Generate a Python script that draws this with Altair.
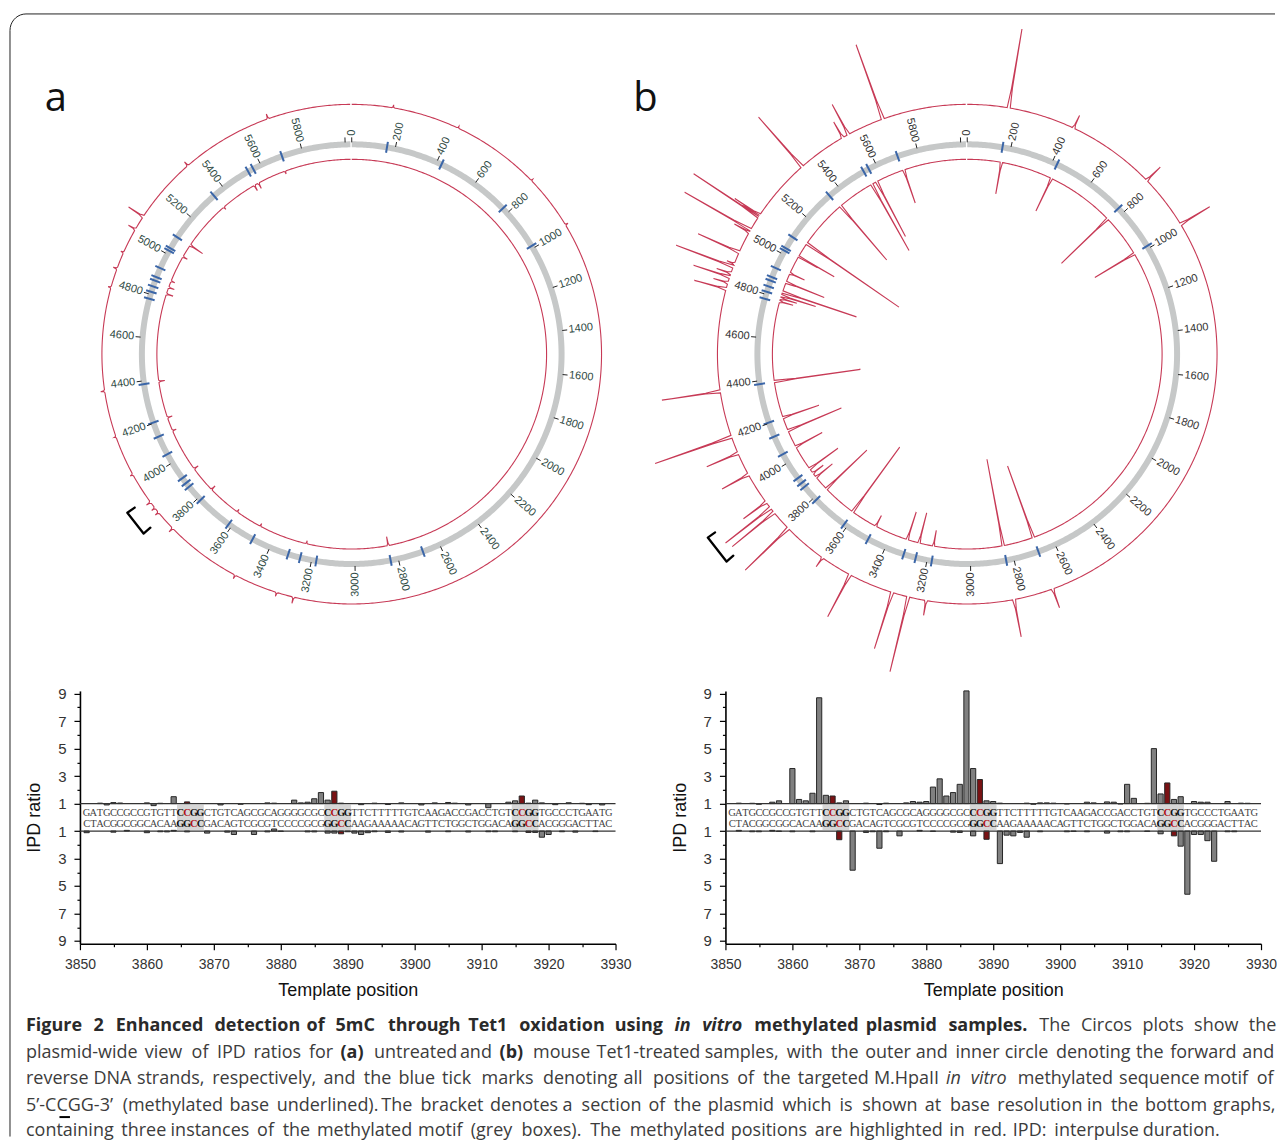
import math
import altair as alt
import pandas as pd

PLASMID = 6030
RED = "#c73a56"
GREY_RING = "#c6c8c8"
BLUE = "#3b66a8"

# ---- Circos data -----------------------------------------------------------
label_bp = list(range(0, 6000, 200))
extra_tick_bp = [6000]
motif_bp = [162, 424, 771, 988, 2683, 2836, 3178, 3253, 3310, 3487, 3616, 3786, 3866, 3888, 3916,
            4045, 4135, 4204, 4385, 4779, 4812, 4838, 4866, 4883, 4928, 5017, 5030, 5089, 5343,
            5535, 5561, 5705]

a_outer_bp = [160, 422, 770, 985, 3241, 3308, 3481, 3782, 3864, 3886, 3914, 4040, 4199, 4380, 4782, 4858, 4925, 5025, 5082, 5343, 5702]
a_outer_ipd = [1.3, 1.2, 1.2, 1.3, 1.65, 1.4, 1.4, 1.5, 1.4, 1.4, 1.5, 1.3, 1.2, 1.4, 1.3, 1.4, 1.3, 1.8, 2.75, 1.5, 1.5]
a_inner_bp = [2834, 3240, 3484, 3618, 3786, 3919, 4135, 4204, 4388, 4824, 4858, 4891, 5025, 5092, 5343, 5528, 5551, 5695]
a_inner_ipd = [1.9, 1.3, 1.3, 1.3, 1.5, 1.5, 1.4, 1.5, 1.6, 1.7, 1.6, 1.4, 1.5, 2.5, 1.3, 1.6, 1.6, 1.3]

b_outer_bp = [160, 422, 769, 983, 2680, 2834, 3174, 3244, 3308, 3484, 3608, 3782, 3864, 3886, 3914, 4040, 4131, 4199, 4379,
              4776, 4801, 4824, 4839, 4866, 4878, 4926, 5012, 5022, 5082, 5089, 5337, 5529, 5554, 5699]
b_outer_ipd = [9.0, 2.4, 2.9, 4.4, 3.0, 4.8, 2.5, 8.7, 6.9, 5.75, 2.1, 7.0, 6.4, 6.7, 3.8, 4.0, 4.4, 9.1, 6.9,
               4.3, 2.5, 4.8, 2.5, 7.1, 1.8, 5.5, 2.7, 8.6, 8.8, 4.0, 7.6, 2.8, 4.4, 8.9]
b_inner_bp = [169, 429, 771, 988, 2683, 2837, 3182, 3255, 3315, 3484, 3618, 3790, 3867, 3892, 3919, 4047, 4135, 4204, 4387,
              4785, 4801, 4815, 4834, 4885, 4933, 5025, 5028, 5102, 5351, 5539, 5566, 5712]
b_inner_ipd = [4.2, 4.6, 7.4, 5.6, 8.6, 9.8, 2.6, 4.1, 3.9, 2.2, 9.0, 6.6, 3.1, 2.3, 4.5, 4.0, 6.8, 4.8, 9.7,
               2.4, 2.7, 4.6, 8.8, 5.1, 2.6, 3.2, 5.1, 12.2, 8.1, 8.6, 7.2, 4.5]

# ---- Base-resolution data --------------------------------------------------
seq_top = "GATGCCGCCGTGTTCCGGCTGTCAGCGCAGGGGCGCCCGGTTCTTTTTGTCAAGACCGACCTGTCCGGTGCCCTGAATG"
seq_bottom = "CTACGGCGGCACAAGGCCGACAGTCGCGTCCCCGCGGGCCAAGAAAAACAGTTCTGGCTGGACAGGCCACGGGACTTAC"
motif_starts = [3865, 3887, 3915]
red_top = [3866, 3888, 3916]
red_bottom = [3867, 3889, 3917]

a_top_pos = [3853, 3854, 3855, 3856, 3860, 3861, 3862, 3864, 3866, 3871, 3874, 3878, 3879, 3882, 3883, 3884, 3885, 3886, 3887, 3888,
             3889, 3892, 3894, 3896, 3898, 3901, 3903, 3905, 3906, 3908, 3911, 3914, 3915, 3916, 3917, 3918, 3919, 3921, 3923, 3925, 3926, 3928]
a_top_val = [1.03, 0.9, 1.07, 1.04, 1.05, 0.85, 1.02, 1.5, 1.12, 0.9, 0.95, 1.05, 1.03, 1.25, 1.05, 1.1, 1.35, 1.8, 1.25, 1.9,
             1.03, 0.92, 1.03, 0.93, 1.05, 0.9, 1.05, 1.08, 1.03, 0.9, 0.7, 1.1, 1.2, 1.55, 1.03, 1.25, 1.05, 0.92, 1.06, 1.02, 0.92, 0.9]
a_bottom_pos = [3851, 3855, 3857, 3860, 3862, 3863, 3864, 3866, 3869, 3872, 3873, 3876, 3878, 3879, 3880, 3884, 3885, 3887, 3888, 3889, 3890,
                3891, 3892, 3893, 3894, 3896, 3898, 3902, 3905, 3908, 3911, 3912, 3915, 3917, 3918, 3919, 3920, 3922, 3924, 3927]
a_bottom_val = [1.12, 1.08, 0.95, 1.12, 1.05, 1.06, 0.95, 1.06, 1.15, 1.08, 1.25, 1.25, 1.06, 0.85, 1.03, 1.06, 1.06, 1.15, 1.15, 1.2, 1.05,
                1.15, 1.25, 1.12, 1.05, 1.1, 1.07, 1.08, 1.05, 1.07, 1.05, 1.05, 1.05, 1.1, 1.1, 1.45, 1.25, 1.05, 1.08, 1.04]
b_top_pos = [3852, 3854, 3855, 3857, 3858, 3860, 3861, 3862, 3863, 3864, 3865, 3866, 3867, 3868, 3871, 3873, 3874, 3877, 3878, 3879, 3880, 3881, 3882,
             3883, 3884, 3885, 3886, 3887, 3888, 3889, 3890, 3891, 3895, 3896, 3897, 3898, 3899, 3901, 3904, 3905, 3907, 3908, 3909, 3910, 3911, 3913,
             3914, 3915, 3916, 3917, 3918, 3920, 3921, 3922, 3925, 3927, 3928]
b_top_val = [1.03, 1.02, 0.95, 1.1, 1.2, 3.55, 1.3, 1.2, 1.75, 8.7, 1.6, 1.55, 1.05, 1.2, 1.03, 0.93, 1.03, 1.05, 1.15, 1.1, 1.15, 2.2, 2.8,
             1.55, 1.8, 2.4, 9.2, 3.55, 2.75, 1.2, 1.15, 1.03, 1.03, 0.95, 1.05, 1.05, 1.03, 0.97, 1.1, 1.05, 1.12, 1.1, 0.97, 2.4, 1.38, 1.02,
             5.0, 1.7, 2.5, 1.3, 1.5, 1.15, 1.1, 1.1, 1.15, 1.03, 1.02]
b_bottom_pos = [3852, 3854, 3855, 3857, 3858, 3860, 3863, 3867, 3869, 3871, 3872, 3873, 3874, 3876, 3879, 3881, 3884, 3885, 3887, 3889, 3891,
                3892, 3893, 3894, 3895, 3897, 3901, 3902, 3904, 3907, 3909, 3910, 3913, 3915, 3917, 3918, 3919, 3920, 3921, 3922, 3923, 3925, 3926]
b_bottom_val = [0.95, 1.05, 1.05, 0.95, 1.03, 1.05, 1.05, 1.63, 3.85, 1.1, 1.05, 2.25, 1.05, 1.35, 0.95, 1.03, 1.08, 1.1, 1.35, 1.6, 3.37,
                1.3, 1.35, 1.1, 1.45, 1.05, 1.05, 1.03, 1.05, 1.15, 1.05, 1.05, 1.03, 1.2, 1.35, 2.1, 5.6, 1.25, 1.25, 1.7, 3.2, 1.05, 1.05]

# ---- Caption ---------------------------------------------------------------
caption_y = [1026, 1053, 1079, 1106, 1131]
caption_end = [1274, 1273, 1273, 1274, 1216]
caption_runs = [
    [("Figure 2 Enhanced detection of 5mC through Tet1 oxidation using", "b"), ("in vitro", "bi"),
     ("methylated plasmid samples.", "b"), ("The Circos plots show the", "r")],
    [("plasmid-wide view of IPD ratios for", "r"), ("(a)", "b"), ("untreated and", "r"), ("(b)", "b"),
     ("mouse Tet1-treated samples, with the outer and inner circle denoting the forward and", "r")],
    [("reverse DNA strands, respectively, and the blue tick marks denoting all positions of the targeted M.HpaII", "r"),
     ("in vitro", "i"), ("methylated sequence motif of", "r")],
    [("5’-CCGG-3’ (methylated base underlined). The bracket denotes a section of the plasmid which is shown at base resolution in the bottom graphs,", "r")],
    [("containing three instances of the methylated motif (grey boxes). The methylated positions are highlighted in red. IPD: interpulse duration.", "r")],
]
FS = 18.0


def char_w(c):
    if c in "iljI.,:;'’": return 0.27
    if c in "ftr()-": return 0.34
    if c in "mM": return 0.90
    if c in "wW": return 0.78
    if c in "ABCDEFGHKLNOPQRSTUVXYZ": return 0.63
    if c in "Ts": return 0.5
    if c in "cez": return 0.49
    return 0.57


def caption_frame():
    rows = []
    for y, end, runs in zip(caption_y, caption_end, caption_runs):
        words = [(w, st) for txt, st in runs for w in txt.split(" ")]
        widths = [sum(char_w(c) for c in w) * FS * (1.09 if "b" in st else 1.0) for w, st in words]
        gap = (end - 25 - sum(widths)) / (len(words) - 1)
        x = 25.0
        for (w, st), wd in zip(words, widths):
            rows.append(dict(x=x, y=y, t=w, st=st))
            x += wd + gap
    return pd.DataFrame(rows)


# ---- Helpers ---------------------------------------------------------------
def pol(cx, cy, bp, r):
    th = 2 * math.pi * bp / PLASMID
    return cx + r * math.sin(th), cy - r * math.cos(th)


def trace(name, cx, cy, r0, sign, bps, vals):
    pts = {float(b): 0.0 for b in range(0, PLASMID + 1, 8)}
    w = 6.0
    for b, v in zip(bps, vals):
        pts = {k: h for k, h in pts.items() if abs(k - b) > w}
    for b, v in zip(bps, vals):
        h = (v - 1) * 10
        pts[b - w] = max(pts.get(b - w, 0), 0)
        pts[b - 1.5] = max(pts.get(b - 1.5, 0), h * 0.25)
        pts[float(b)] = max(pts.get(float(b), 0), h)
        pts[b + 1.5] = max(pts.get(b + 1.5, 0), h * 0.25)
        pts[b + w] = max(pts.get(b + w, 0), 0)
    rows = []
    for i, k in enumerate(sorted(pts)):
        x, y = pol(cx, cy, k, r0 + sign * pts[k])
        rows.append(dict(ring=name, i=i, x=x, y=y))
    return rows


W = 1269
X = alt.X("x:Q", scale=alt.Scale(domain=[8, 8 + W]), axis=None)
Y = alt.Y("y:Q", scale=alt.Scale(domain=[8, 691], reverse=True), axis=None)
ONE = pd.DataFrame({"k": [0]})


def circos(name, cx, cy, bps_o, vals_o, bps_i, vals_i, label_color, br_r):
    ring_pts = [dict(zip(("x", "y"), pol(cx, cy, b, 210))) | {"i": i} for i, b in enumerate(range(0, PLASMID + 1, 8))]
    ring = alt.Chart(pd.DataFrame(ring_pts)).mark_line(color=GREY_RING, strokeWidth=6).encode(X, Y, order="i:Q")
    tr = pd.DataFrame(trace(name + "o", cx, cy, 250, 1, bps_o, vals_o) + trace(name + "i", cx, cy, 195, -1, bps_i, vals_i))
    red = alt.Chart(tr).mark_line(color=RED, strokeWidth=1.1).encode(X, Y, detail="ring:N", order="i:Q")
    seg = []
    for b in motif_bp:
        x, y = pol(cx, cy, b, 204.5)
        x2, y2 = pol(cx, cy, b, 215.5)
        seg.append(dict(x=x, y=y, x2=x2, y2=y2))
    blue = alt.Chart(pd.DataFrame(seg)).mark_rule(color=BLUE, strokeWidth=2).encode(X, Y, x2="x2:Q", y2="y2:Q")
    tk = []
    for b in label_bp + extra_tick_bp:
        x, y = pol(cx, cy, b, 212)
        x2, y2 = pol(cx, cy, b, 217)
        tk.append(dict(x=x, y=y, x2=x2, y2=y2))
    ticks = alt.Chart(pd.DataFrame(tk)).mark_rule(color="#222222", strokeWidth=1).encode(X, Y, x2="x2:Q", y2="y2:Q")
    rl, ll = [], []
    for b in label_bp:
        th = 360.0 * b / PLASMID
        x, y = pol(cx, cy, b, 218.5)
        if 0 <= th < 178:
            rl.append(dict(x=x, y=y, t=str(b), a=(th - 90) % 360))
        else:
            ll.append(dict(x=x, y=y, t=str(b), a=(th + 90) % 360))
    lab_kw = dict(font="Liberation Sans", fontSize=11, color=label_color, baseline="middle")
    labs_r = alt.Chart(pd.DataFrame(rl)).mark_text(align="left", **lab_kw).encode(X, Y, text="t:N", angle=alt.Angle("a:Q", scale=None))
    labs_l = alt.Chart(pd.DataFrame(ll)).mark_text(align="right", **lab_kw).encode(X, Y, text="t:N", angle=alt.Angle("a:Q", scale=None))
    br = [pol(cx, cy, 3932, br_r), pol(cx, cy, 3932, br_r + 9), pol(cx, cy, 3840, br_r + 9), pol(cx, cy, 3840, br_r)]
    bracket = alt.Chart(pd.DataFrame([dict(x=p[0], y=p[1], i=i) for i, p in enumerate(br)])).mark_line(
        color="black", strokeWidth=2.3, strokeCap="round", strokeJoin="round").encode(X, Y, order="i:Q")
    return [ring, blue, ticks, labs_r, labs_l, red, bracket]


def ipd_panel(top_pos, top_val, bot_pos, bot_val):
    rows = []
    for p, v in zip(top_pos, top_val):
        rows.append(dict(pos=p, u=v, base=1, col="#7a1214" if p in red_top else "#808080"))
    for p, v in zip(bot_pos, bot_val):
        rows.append(dict(pos=p, u=-v, base=-1, col="#7a1214" if p in red_bottom else "#808080"))
    x = alt.X("pos:Q", scale=alt.Scale(domain=[3850, 3930], nice=False, zero=False, padding=0),
              axis=alt.Axis(values=list(range(3850, 3931, 5)), title="Template position", grid=False,
                            labelExpr="datum.value % 10 == 0 ? datum.label : ''", format="d", labelFlush=False, labelOverlap=False,
                            labelFont="Liberation Sans", labelFontSize=14, labelColor="#333333", labelPadding=8,
                            titleFont="Liberation Sans", titleFontSize=18, titleFontWeight="normal", titleColor="#111111",
                            titlePadding=10, domainColor="black", domainWidth=1.4, tickColor="black", tickWidth=1.2,
                            tickSize={"condition": {"test": "datum.value % 10 == 0", "value": 6}, "value": 3}))
    y = alt.Y("u:Q", scale=alt.Scale(domain=[-9.2, 9.2], nice=False, zero=False, padding=0),
              axis=alt.Axis(values=[v for v in range(-9, 10) if v != 0], title="IPD ratio", grid=False,
                            labelExpr="abs(datum.value) % 2 == 1 ? abs(datum.value) : ''", labelFlush=False, labelOverlap=False,
                            labelFont="Liberation Sans", labelFontSize=15, labelColor="#333333", labelPadding=8,
                            titleFont="Liberation Sans", titleFontSize=18, titleFontWeight="normal", titleColor="#111111",
                            titlePadding=14, domainColor="black", domainWidth=1.6, tickColor="black", tickWidth=1.2,
                            tickSize={"condition": {"test": "abs(datum.value) % 2 == 1", "value": 6}, "value": 3}))
    boxes = alt.Chart(pd.DataFrame([dict(pos=s - 0.5, pos2=s + 3.5, u=0.92, u2=-0.92) for s in motif_starts])).mark_rect(
        color="#d6d6d6").encode(x, y, x2="pos2:Q", y2="u2:Q")
    bars = alt.Chart(pd.DataFrame(rows)).mark_bar(size=5.2, stroke="#262626", strokeWidth=1).encode(
        x, y, y2="base:Q", fill=alt.Fill("col:N", scale=None))
    lines = alt.Chart(pd.DataFrame({"u": [1, -1]})).mark_rule(color="#333333", strokeWidth=1.2).encode(y=y)
    letters = []
    for s, u, reds in ((seq_top, 0.32, red_top), (seq_bottom, -0.48, red_bottom)):
        for i, c in enumerate(s):
            p = 3851 + i
            bold = any(st <= p <= st + 3 for st in motif_starts)
            letters.append(dict(pos=p, u=u, t=c, bold=bold, col="#b01116" if p in reds else ("#111111" if bold else "#444444")))
    letters = pd.DataFrame(letters)
    tk = dict(font="Liberation Serif", fontSize=10.5, baseline="middle", align="center")
    t1 = alt.Chart(letters[~letters.bold]).mark_text(**tk).encode(x, y, text="t:N", color=alt.Color("col:N", scale=None))
    t2 = alt.Chart(letters[letters.bold]).mark_text(fontWeight="bold", **tk).encode(x, y, text="t:N", color=alt.Color("col:N", scale=None))
    return alt.layer(boxes, bars, lines, t1, t2).properties(width=536, height=253)


# ---- Top row ---------------------------------------------------------------
frame_left = alt.Chart(ONE).mark_rule(color="#222222", strokeWidth=1).encode(x=alt.value(1), y=alt.value(22), y2=alt.value(683))
frame_top = alt.Chart(ONE).mark_rule(color="#222222", strokeWidth=1).encode(y=alt.value(5.5), x=alt.value(17), x2=alt.value(W - 2))
corner_deg = [270, 280, 290, 300, 310, 320, 330, 340, 350, 360]
corner_pts = pd.DataFrame([dict(x=25 + 16 * math.sin(math.radians(d)), y=30 - 16.5 * math.cos(math.radians(d)), i=i) for i, d in enumerate(corner_deg)])
frame_corner = alt.Chart(corner_pts).mark_line(color="#222222", strokeWidth=1).encode(X, Y, order="i:Q")
panel_letters = alt.Chart(pd.DataFrame({"x": [55, 645], "y": [111, 111], "t": ["a", "b"]})).mark_text(
    font="Open Sans", fontSize=40, baseline="alphabetic", align="center", color="#111111").encode(X, Y, text="t:N")

top = alt.layer(
    frame_left, frame_top, frame_corner, panel_letters,
    *circos("a", 351, 354, a_outer_bp, a_outer_ipd, a_inner_bp, a_inner_ipd, "#2f4a44", 266),
    *circos("b", 967, 354, b_outer_bp, b_outer_ipd, b_inner_bp, b_inner_ipd, "#333333", 309),
).properties(width=W, height=683)

# ---- Middle row ------------------------------------------------------------
spacer_l = alt.Chart(ONE).mark_point(opacity=0).encode(x=alt.value(30), y=alt.value(30)).properties(width=71, height=253)
spacer_m = alt.Chart(ONE).mark_point(opacity=0).encode(x=alt.value(30), y=alt.value(30)).properties(width=110, height=253)
middle = alt.hconcat(spacer_l, ipd_panel(a_top_pos, a_top_val, a_bottom_pos, a_bottom_val), spacer_m,
                     ipd_panel(b_top_pos, b_top_val, b_bottom_pos, b_bottom_val), spacing=0, bounds="flush").resolve_scale(x="independent", y="independent")

# ---- Caption row (the flush middle row takes no height, so this row starts at page y 691) ----
cap = caption_frame()
CX = alt.X("x:Q", scale=alt.Scale(domain=[8, 8 + W]), axis=None)
CY = alt.Y("y:Q", scale=alt.Scale(domain=[691, 1139], reverse=True), axis=None)
style_map = {"r": ("normal", "normal", "#3c3c3c"), "b": ("bold", "normal", "#2a2a2a"),
             "i": ("normal", "italic", "#3c3c3c"), "bi": ("bold", "italic", "#2a2a2a")}
cap_layers = []
for st, (wt, it, col) in style_map.items():
    cap_layers.append(alt.Chart(cap[cap.st == st]).mark_text(font="Open Sans", fontSize=FS, fontWeight=wt, fontStyle=it, color=col,
                                                             align="left", baseline="middle").encode(CX, CY, text="t:N"))
under = alt.Chart(pd.DataFrame({"x": [58.5], "x2": [69.0], "y": [1117.5]})).mark_rule(color="black", strokeWidth=2).encode(CX, CY, x2="x2:Q")
frame_cap = alt.Chart(ONE).mark_rule(color="#222222", strokeWidth=1).encode(x=alt.value(1), y=alt.value(0), y2=alt.value(446))
caption = alt.layer(frame_cap, under, *cap_layers).properties(width=W, height=448)

chart = alt.vconcat(top, middle, caption, spacing=0, bounds="flush").properties(padding=0, background="white").configure_view(stroke=None)
chart.save("out.html", embed_options={"renderer": "svg", "actions": False})
